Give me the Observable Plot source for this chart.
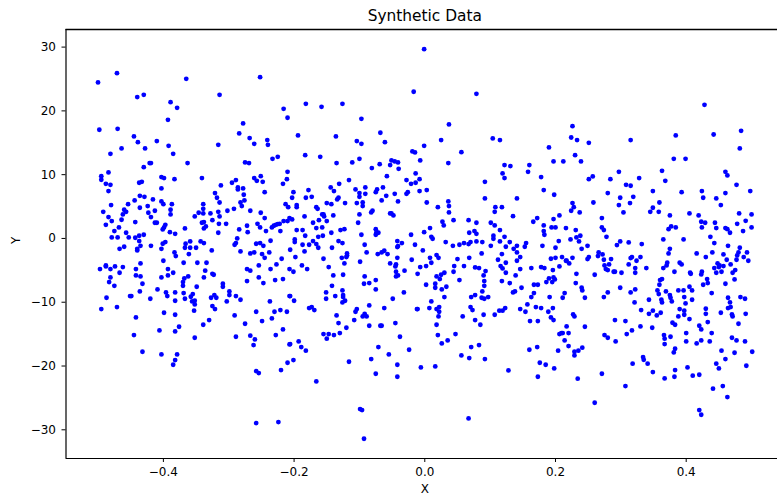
<!DOCTYPE html>
<html>
<head>
<meta charset="utf-8">
<script src="https://cdn.jsdelivr.net/npm/d3@7"></script>
<script src="https://cdn.jsdelivr.net/npm/@observablehq/plot@0.6"></script>
<style>html,body{margin:0;padding:0;background:#fff}svg{display:block}</style>
</head>
<body>
<div id="chart"></div>
<script>
const titleText = "Synthetic Data";
const xLabel = "X";
const yLabel = "Y";
const xTicks = [-0.4, -0.2, 0, 0.2, 0.4];
const yTicks = [-30, -20, -10, 0, 10, 20, 30];
const xDomain = [-0.549, 0.5397];
const yDomain = [-34.5, 32.76];

const leftUpper = [[-.5,24.46],[-.471,25.92],[-.365,25.03],[-.252,25.29],[-.44,22.16],[-.43,22.52],[-.314,22.52],[-.389,21.37],[-.379,20.48],[-.216,20.33],[-.21,18.92],[-.393,18.6],[-.278,18.03],[-.498,17.04],[-.47,17.19],[-.284,16.46],[-.445,15.99],[-.439,15.1],[-.41,15.26],[-.268,15.73],[-.241,15.42],[-.24,14.68],[-.261,14.84],[-.392,14.53],[-.316,14.68],[-.428,14.11],[-.464,14.11],[-.481,13.27],[-.385,13.27],[-.225,12.8],[-.233,12.49],[-.421,11.81],[-.419,11.81],[-.363,11.81],[-.275,11.92],[-.269,11.81],[-.43,11.18],[-.484,10.35],[-.21,10.45],[-.495,9.77],[-.495,9.2],[-.403,9.62],[-.399,9.46],[-.383,9.3],[-.341,9.46],[-.251,9.77],[-.261,9.46],[-.257,9.04],[-.248,8.88],[-.211,9.3],[-.217,8.57],[-.488,8.57],[-.481,8.41],[-.437,8.73],[-.433,8.88],[-.289,9.15],[-.295,8.73],[-.312,8.31],[-.403,7.84],[-.286,8],[-.286,7.68],[-.278,7.84],[-.484,7.42],[-.245,7.26],[-.321,7.11],[-.436,6.69],[-.429,6.53],[-.277,6.85],[-.318,6.38],[-.416,6.12],[-.444,5.96],[-.403,5.8],[-.4,5.38],[-.314,5.64],[-.276,5.96],[-.282,5.64],[-.339,5.38],[-.387,5.38],[-.454,5.38],[-.48,5.23],[-.436,4.81],[-.424,5.07],[-.28,5.07],[-.213,5.38],[-.209,4.91],[-.46,4.5],[-.457,4.18],[-.389,4.5],[-.339,4.65],[-.413,4.34],[-.492,4.18],[-.423,4.03],[-.462,3.76],[-.389,3.76],[-.346,4.03],[-.339,3.92],[-.328,3.92],[-.316,4.18],[-.302,4.34],[-.292,4.65],[-.267,4.34],[-.251,4.03],[-.314,3.45],[-.352,3.45],[-.419,3.35],[-.484,3.35],[-.464,2.93],[-.479,2.72],[-.443,2.56],[-.413,2.46],[-.41,2.46],[-.341,2.46],[-.338,2.56],[-.325,2.87],[-.315,2.3],[-.304,2.3],[-.245,3.19],[-.216,2.72],[-.21,2.72],[-.207,3.19],[-.488,2.14],[-.397,2.14],[-.256,2.3],[-.468,1.73],[-.401,1.41],[-.399,1.73],[-.367,1.57],[-.335,1.88],[-.338,1.57],[-.284,1.41],[-.272,1.99],[-.252,1.73],[-.234,1.73],[-.231,1.99],[-.228,2.14],[-.225,2.25],[-.222,2.3],[-.475,1.15],[-.457,.89],[-.39,.99],[-.382,.73],[-.316,.89],[-.271,.99],[-.243,1.15],[-.221,1.15],[-.43,.58],[-.437,.42],[-.443,.11],[-.479,.16],[-.47,.16],[-.453,.16],[-.287,0]];

const leftLower = [[-.437,-.41],[-.401,-.83],[-.397,-.57],[-.359,-.47],[-.343,-.47],[-.338,-.73],[-.289,-.73],[-.291,-.99],[-.258,-.83],[-.252,-.73],[-.247,-1.15],[-.236,-.36],[-.435,-1.15],[-.419,-1.15],[-.366,-.83],[-.367,-1.46],[-.359,-1.46],[-.35,-1.46],[-.467,-1.62],[-.46,-1.3],[-.44,-1.62],[-.44,-1.88],[-.403,-1.62],[-.326,-1.88],[-.383,-2.19],[-.381,-2.77],[-.361,-2.45],[-.282,-2.03],[-.267,-2.35],[-.261,-2.19],[-.249,-2.45],[-.238,-2.19],[-.245,-3.03],[-.219,-3.18],[-.4,-3.5],[-.369,-3.81],[-.348,-3.81],[-.334,-3.81],[-.435,-3.92],[-.488,-4.23],[-.488,-4.39],[-.474,-4.39],[-.462,-4.49],[-.481,-4.8],[-.497,-4.8],[-.442,-4.8],[-.393,-4.8],[-.336,-5.06],[-.254,-4.23],[-.227,-4.07],[-.272,-4.8],[-.267,-5.06],[-.236,-4.8],[-.207,-4.8],[-.467,-5.38],[-.385,-5.38],[-.393,-5.8],[-.325,-5.54],[-.323,-5.69],[-.442,-5.8],[-.435,-5.95],[-.403,-6.11],[-.362,-5.95],[-.368,-6.27],[-.338,-6.11],[-.481,-6.11],[-.483,-6.84],[-.37,-6.84],[-.37,-7.42],[-.432,-7.1],[-.475,-7.42],[-.272,-6.68],[-.254,-6.11],[-.247,-7],[-.229,-6.53],[-.217,-6.37],[-.309,-7.1],[-.309,-7.57],[-.349,-7.57],[-.409,-7.99],[-.436,-8.3],[-.396,-8.46],[-.382,-8.46],[-.394,-9.04],[-.369,-8.57],[-.355,-8.72],[-.358,-9.14],[-.299,-8.3],[-.299,-8.88],[-.322,-8.88],[-.319,-9.3],[-.327,-9.3],[-.289,-9.04],[-.451,-9.04],[-.449,-9.04],[-.487,-9.3],[-.42,-9.45],[-.367,-9.45],[-.382,-9.77],[-.356,-9.87],[-.352,-9.77],[-.352,-10.34],[-.303,-9.87],[-.282,-9.61],[-.237,-9.87],[-.207,-9.04],[-.495,-11.07],[-.471,-10.76],[-.325,-10.6],[-.321,-11.07],[-.353,-11.33],[-.399,-11.65],[-.382,-11.96],[-.258,-11.49],[-.23,-11.49],[-.221,-11.23],[-.211,-11.49],[-.291,-12.07],[-.442,-12.38],[-.234,-12.54],[-.33,-12.8],[-.249,-12.95],[-.275,-13.37],[-.339,-13.53],[-.376,-13.84],[-.406,-14.42],[-.382,-14.57],[-.217,-14.26],[-.445,-15.15],[-.289,-15.41],[-.267,-15.25],[-.352,-15.57],[-.26,-15.83],[-.228,-15.15],[-.207,-16.61],[-.262,-16.72],[-.432,-17.76],[-.403,-18.18],[-.379,-18.18],[-.382,-19.07],[-.385,-19.8],[-.21,-19.49],[-.22,-20.64],[-.258,-20.79],[-.254,-21.11],[-.258,-28.94],[-.224,-28.79]];

const middleUpper = [[-.001,29.68],[-.017,23],[.079,22.68],[-.182,21.11],[-.158,20.64],[-.126,21.11],[-.097,18.76],[.037,17.87],[-.194,16.15],[-.136,15.99],[-.068,16.57],[-.104,15.26],[-.097,14.84],[-.061,15.1],[.025,15.42],[.104,15.68],[.115,15.42],[-.001,14.53],[-.019,13.64],[-.015,13.48],[.056,13.53],[-.183,13.06],[-.16,12.8],[-.1,12.49],[-.135,11.81],[-.111,11.92],[-.069,11.65],[-.051,12.23],[-.053,11.5],[-.046,12.07],[-.041,11.92],[-.007,12.23],[.036,11.81],[.122,11.5],[.131,11.34],[-.081,11.03],[-.04,10.92],[.119,10.19],[-.014,10.19],[-.058,9.77],[.122,9.46],[-.116,9.15],[-.028,9.15],[-.008,9.3],[-.021,8.57],[-.014,8.73],[-.131,8.57],[.092,8.88],[-.144,8],[-.178,7.58],[-.139,7.42],[-.201,7.26],[-.106,7.68],[-.091,8],[-.1,7.11],[-.091,7],[-.064,8],[-.073,7.68],[-.075,7.26],[-.028,7],[-.026,7.26],[-.008,7.42],[.003,7.58],[-.046,7],[-.059,6.69],[-.1,6.53],[-.182,6.38],[-.173,6.53],[-.203,6.38],[-.132,6.38],[-.134,6.12],[-.066,5.96],[-.041,5.8],[.003,5.64],[.036,5.8],[.092,6.27],[.141,6.27],[-.15,5.54],[-.143,5.38],[-.122,5.54],[-.104,5.54],[-.095,5.64],[-.095,5.07],[.02,4.91],[.037,5.07],[.108,4.91],[.118,4.91],[-.196,5.23],[-.196,4.91],[-.166,4.91],[-.164,4.65],[-.08,4.34],[-.082,4.08],[.107,4.18],[.037,4.08],[-.1,3.76],[-.053,3.92],[-.051,3.92],[-.048,3.61],[-.184,3.45],[-.157,3.76],[-.155,3.76],[-.154,3.45],[-.14,3.61],[.135,3.5],[-.203,2.98],[-.162,2.87],[-.15,2.72],[.044,2.87],[.067,2.87],[.027,2.62],[.029,2.04],[.079,2.46],[.101,2.46],[.107,2.04],[-.171,2.46],[-.102,2.46],[-.166,1.62],[-.157,1.73],[-.196,1.31],[-.187,1.31],[-.129,1.31],[-.123,1.46],[-.075,1.46],[-.074,.99],[-.071,.89],[.008,1.62],[.115,1.31],[-.001,.99],[.076,1.15],[.068,.89],[.079,.73],[-.143,.89],[-.183,.42],[-.156,.42],[-.163,.26],[-.097,.58],[-.075,.58],[-.021,.58],[.105,.42],[.105,-.05],[.122,.26],[.01,.26],[.012,-.05],[-.199,-.15]];

const middleLower = [[-.199,-.57],[-.187,-.99],[-.177,-.99],[-.171,-.41],[-.166,-.88],[-.163,-1.46],[-.132,-.41],[-.126,-.73],[-.092,-.99],[-.042,-.41],[-.035,-.73],[-.015,-.99],[-.042,-1.35],[-.041,-1.2],[-.142,-1.46],[-.184,-2.03],[-.206,-1.77],[-.198,-2.92],[-.089,-2.19],[-.003,-1.88],[.032,-.57],[.043,-1.15],[.053,-.99],[.06,-.73],[.067,-.88],[.07,-.57],[.079,-.47],[.088,-.57],[.101,-1.15],[.115,-.47],[.124,-1.3],[.13,-.57],[.136,-1.62],[.141,-1.15],[.153,-1.3],[.141,-2.19],[-.072,-2.45],[-.066,-2.19],[-.062,-1.93],[-.057,-2.45],[-.119,-2.35],[-.119,-2.66],[-.12,-2.92],[-.127,-3.03],[-.155,-3.18],[-.042,-3.03],[.018,-2.61],[.021,-3.03],[.008,-3.03],[.087,-2.35],[.068,-3.03],[.05,-3.24],[.118,-2.45],[.112,-3.34],[.146,-2.92],[-.099,-3.65],[-.123,-3.92],[-.053,-3.92],[-.044,-4.07],[-.045,-4.39],[-.02,-3.34],[.01,-3.81],[.002,-4.33],[-.007,-4.49],[-.188,-4.23],[-.18,-4.8],[-.147,-4.49],[.045,-4.33],[.06,-4.33],[.077,-4.54],[.083,-4.65],[.093,-5.12],[.116,-4.33],[.119,-4.7],[.124,-3.81],[.141,-3.5],[.146,-4.8],[-.201,-5.22],[-.044,-5.22],[-.031,-5.06],[-.041,-5.8],[-.044,-5.95],[-.011,-5.54],[.044,-5.22],[-.14,-5.8],[-.125,-5.69],[-.092,-5.95],[.018,-5.95],[.025,-5.69],[.03,-5.38],[.09,-5.8],[.124,-5.38],[.139,-5.8],[.023,-6.37],[-.075,-6.53],[-.142,-7.42],[-.093,-7.1],[-.085,-7],[.016,-7.1],[.002,-7.26],[.016,-7.73],[.053,-6.53],[.091,-6.68],[.091,-7.42],[.118,-6.68],[.13,-7],[.033,-7.57],[.148,-7.73],[-.075,-7.99],[-.151,-8.46],[-.126,-8.15],[-.125,-8.88],[-.125,-9.19],[-.137,-9.04],[-.032,-8.46],[.026,-7.99],[.088,-8.3],[.135,-8.46],[.138,-8.3],[-.151,-9.45],[-.2,-9.77],[-.206,-9.04],[-.122,-9.77],[-.126,-10.03],[-.049,-9.45],[.01,-9.87],[.03,-9.19],[.071,-9.19],[.077,-8.88],[.087,-9.3],[.091,-9.45],[.097,-9.19],[-.085,-10.5],[-.177,-10.92],[-.173,-10.76],[-.169,-11.23],[-.062,-10.92],[-.104,-11.07],[-.106,-11.49],[-.012,-11.07],[-.011,-11.07],[.007,-10.92],[.018,-11.07],[.022,-10.76],[.022,-11.49],[.07,-10.76],[.073,-11.23],[.123,-10.92],[.114,-11.33],[.119,-11.33],[.146,-11.07],[.154,-11.49],[-.135,-12.07],[-.092,-11.81],[-.095,-12.22],[-.089,-12.22],[.021,-12.22],[.058,-12.22],[.09,-11.96],[.107,-11.96],[-.108,-12.8],[-.132,-13.27],[-.045,-13.27],[.077,-12.8],[.018,-13.53],[.085,-13.53],[-.085,-13.69],[-.068,-13.69],[-.066,-13.69],[-.12,-14],[-.13,-14.84],[-.155,-14.99],[-.147,-14.99],[-.139,-15.15],[-.15,-15.72],[-.038,-15.41],[.02,-15.15],[.047,-14.99],[.035,-15.98],[-.193,-16.14],[.026,-16.46],[-.189,-17.03],[-.071,-17.03],[.071,-17.03],[.083,-16.72],[-.182,-17.6],[-.024,-17.45],[-.206,-16.56],[-.055,-18.18],[.056,-18.34],[-.082,-18.91],[-.201,-19.07],[-.116,-19.33],[.068,-18.75],[.092,-18.91],[-.042,-19.8],[-.006,-20.22],[.016,-20.06],[.128,-20.69],[-.075,-21.21],[-.042,-21.68],[-.166,-22.41],[-.099,-26.75],[-.096,-26.91],[.067,-28.21],[-.093,-31.4]];

const rightUpper = [[.428,20.95],[.226,17.61],[.442,16.3],[.384,16.15],[.484,16.88],[.224,15.83],[.233,15.42],[.251,15],[.315,15.42],[.19,14.27],[.482,14.11],[.23,13.06],[.197,12.07],[.212,12.07],[.239,12.07],[.381,12.49],[.399,12.49],[.16,11.5],[.158,10.45],[.297,10.45],[.363,10.61],[.46,10.45],[.463,9.88],[.178,9.62],[.257,9.72],[.251,9.3],[.284,9.3],[.328,9.46],[.368,9.04],[.308,8.41],[.315,8.26],[.477,8.41],[.182,7.58],[.349,7.42],[.393,7.26],[.424,7.42],[.498,7.42],[.198,6.85],[.28,7.11],[.46,7.11],[.299,6.38],[.319,6.53],[.426,6.38],[.446,6.27],[.226,5.54],[.258,5.64],[.314,5.54],[.359,5.64],[.297,5.23],[.453,5.23],[.228,4.91],[.349,4.81],[.224,4.34],[.237,4.08],[.304,4.08],[.345,4.18],[.358,4.18],[.405,3.92],[.481,3.92],[.5,3.76],[.206,3.61],[.375,3.61],[.419,3.61],[.172,3.19],[.197,3.03],[.271,3.19],[.166,2.62],[.182,2.04],[.194,1.73],[.2,1.73],[.216,1.62],[.271,1.73],[.274,1.31],[.231,1.31],[.182,1.15],[.183,.58],[.238,.42],[.232,.16],[.278,.26],[.223,-.15],[.373,1.46],[.377,1.88],[.384,1.73],[.423,2.62],[.429,2.46],[.444,2.46],[.424,1.73],[.446,1.62],[.46,1.62],[.463,1.46],[.467,.89],[.478,2.3],[.491,2.77],[.487,1.15],[.5,1.73],[.437,.26],[.365,-.15],[.396,-.15],[.155,-.73]];

const rightLower = [[.18,-1.15],[.2,-1.46],[.205,-.41],[.24,-1.62],[.249,-1.15],[.236,-.47],[.294,-1.04],[.299,-.47],[.312,-.62],[.332,-.88],[.443,-.73],[.464,-1.15],[.482,-1.46],[.375,-1.62],[.373,-2.35],[.416,-2.35],[.43,-2.92],[.44,-2.19],[.457,-2.5],[.462,-3.34],[.48,-2.19],[.478,-2.66],[.477,-3.34],[.488,-2.92],[.493,-2.19],[.495,-3.5],[.266,-2.19],[.265,-2.77],[.272,-2.5],[.274,-3.34],[.285,-3.24],[.275,-4.23],[.282,-4.07],[.312,-4.07],[.317,-2.92],[.315,-3.08],[.324,-3.5],[.33,-2.92],[.193,-3.18],[.2,-3.03],[.21,-2.92],[.216,-3.5],[.217,-3.5],[.221,-3.92],[.226,-3.03],[.249,-3.24],[.251,-2.92],[.206,-4.39],[.163,-4.65],[.178,-4.49],[.183,-4.65],[.196,-4.96],[.277,-4.8],[.28,-4.96],[.289,-5.22],[.291,-5.22],[.301,-5.38],[.322,-4.65],[.322,-5.38],[.339,-4.65],[.365,-4.65],[.371,-3.81],[.37,-4.23],[.39,-3.81],[.393,-4.07],[.382,-5.22],[.406,-5.38],[.407,-5.54],[.424,-5.22],[.423,-5.64],[.443,-4.65],[.448,-3.92],[.451,-4.23],[.457,-4.33],[.45,-4.49],[.446,-5.38],[.454,-5.22],[.468,-4.07],[.475,-4.96],[.471,-5.38],[.232,-5.54],[.26,-5.69],[.36,-6.53],[.363,-6.37],[.359,-7.26],[.432,-6.37],[.433,-7],[.426,-7.26],[.46,-7.1],[.474,-6.42],[.197,-6.11],[.199,-6.42],[.19,-6.27],[.186,-6.84],[.195,-6.84],[.231,-7],[.167,-7.26],[.173,-7.26],[.24,-7.73],[.241,-8.15],[.299,-7.73],[.322,-7.99],[.315,-8.46],[.28,-8.46],[.356,-8.15],[.358,-8.72],[.369,-8.3],[.388,-8.15],[.396,-8.15],[.405,-7.57],[.409,-8.15],[.375,-8.88],[.376,-9.3],[.439,-8.57],[.214,-8.57],[.167,-8.57],[.163,-9.19],[.191,-9.19],[.211,-9.3],[.245,-9.3],[.274,-9.19],[.343,-9.61],[.362,-9.61],[.363,-10.03],[.378,-9.87],[.397,-9.19],[.409,-9.61],[.464,-9.3],[.467,-10.03],[.483,-9.19],[.49,-9.45],[.321,-10.03],[.399,-10.19],[.157,-10.34],[.17,-10.76],[.178,-10.92],[.196,-10.92],[.189,-11.49],[.331,-11.23],[.39,-11.07],[.43,-11.02],[.464,-10.92],[.468,-10.76],[.453,-11.65],[.43,-11.81],[.397,-11.33],[.397,-11.96],[.343,-11.81],[.349,-11.33],[.361,-11.65],[.355,-12.07],[.491,-11.81],[.227,-11.91],[.229,-12.22],[.388,-12.22],[.47,-11.91],[.471,-12.22],[.193,-12.38],[.197,-12.8],[.161,-12.95],[.173,-12.95],[.291,-12.8],[.307,-12.95],[.405,-12.64],[.433,-13.11],[.379,-13.22],[.383,-13.53],[.48,-13.37],[.42,-13.69],[.33,-13.79],[.348,-14],[.245,-13.84],[.217,-13.79],[.423,-14.26],[.317,-14.42],[.22,-14.84],[.206,-14.99],[.209,-14.84],[.211,-14.84],[.309,-14.99],[.275,-15.15],[.28,-15.57],[.366,-15.15],[.367,-15.72],[.376,-15.41],[.4,-14.84],[.439,-14.84],[.47,-15.57],[.477,-15.98],[.214,-15.98],[.292,-16.14],[.367,-16.56],[.4,-16.14],[.423,-15.98],[.416,-16.46],[.436,-16.14],[.49,-16.14],[.22,-16.87],[.172,-17.03],[.16,-17.45],[.204,-17.6],[.241,-17.13],[.235,-17.6],[.229,-17.76],[.229,-18.34],[.383,-17.29],[.381,-17.87],[.454,-17.6],[.474,-17.92],[.501,-17.76],[.334,-18.6],[.335,-19.02],[.46,-18.91],[.176,-19.49],[.185,-19.8],[.198,-20.37],[.318,-19.64],[.341,-19.64],[.446,-19.64],[.45,-20.37],[.402,-20.22],[.492,-19.96],[.383,-20.64],[.349,-20.95],[.271,-21.21],[.173,-21.68],[.234,-21.99],[.367,-21.94],[.382,-21.68],[.41,-21.52],[.42,-21.37],[.307,-23.14],[.456,-23.14],[.441,-23.56],[.463,-24.87],[.26,-25.76],[.42,-26.9],[.423,-27.64]];

const points = [...leftUpper, ...leftLower, ...middleUpper, ...middleLower, ...rightUpper, ...rightLower];

const chart = Plot.plot({
  width: 777,
  height: 495,
  marginLeft: 65.5,
  marginRight: 0,
  marginTop: 29,
  marginBottom: 37,
  style: {fontFamily: "'DejaVu Sans', sans-serif", fontSize: "12px", background: "#fff", color: "#000"},
  x: {domain: xDomain},
  y: {domain: yDomain},
  marks: [
    Plot.dot(points, {x: d => d[0], y: d => d[1], r: 2.4, fill: "#0000ff", stroke: "none"}),
    Plot.ruleX([xDomain[0]], {stroke: "#000", strokeWidth: 1.2}),
    Plot.ruleY([yDomain[0]], {stroke: "#000", strokeWidth: 1.2}),
    Plot.ruleY([yDomain[1]], {stroke: "#000", strokeWidth: 1.6}),
    Plot.axisX({ticks: xTicks, tickFormat: d3.format(".1f"), tickSize: 4, tickPadding: 4.5, label: null, fontVariant: "normal", stroke: "#000", fill: "#000", fontSize: 12}),
    Plot.axisY({ticks: yTicks, tickFormat: d3.format("d"), tickSize: 4, tickPadding: 6, label: null, fontVariant: "normal", stroke: "#000", fill: "#000", fontSize: 12}),
    Plot.text([titleText], {x: () => 0, frameAnchor: "top", dy: -19.5, lineAnchor: "top", fontSize: 15.4, fill: "#000"}),
    Plot.text([xLabel], {x: () => 0, frameAnchor: "bottom", dy: 26, lineAnchor: "top", fontSize: 12, fill: "#000"}),
    Plot.text([yLabel], {frameAnchor: "left", dx: -50, rotate: -90, fontSize: 12, fill: "#000"})
  ]
});
document.getElementById("chart").appendChild(chart);
</script>
</body>
</html>
